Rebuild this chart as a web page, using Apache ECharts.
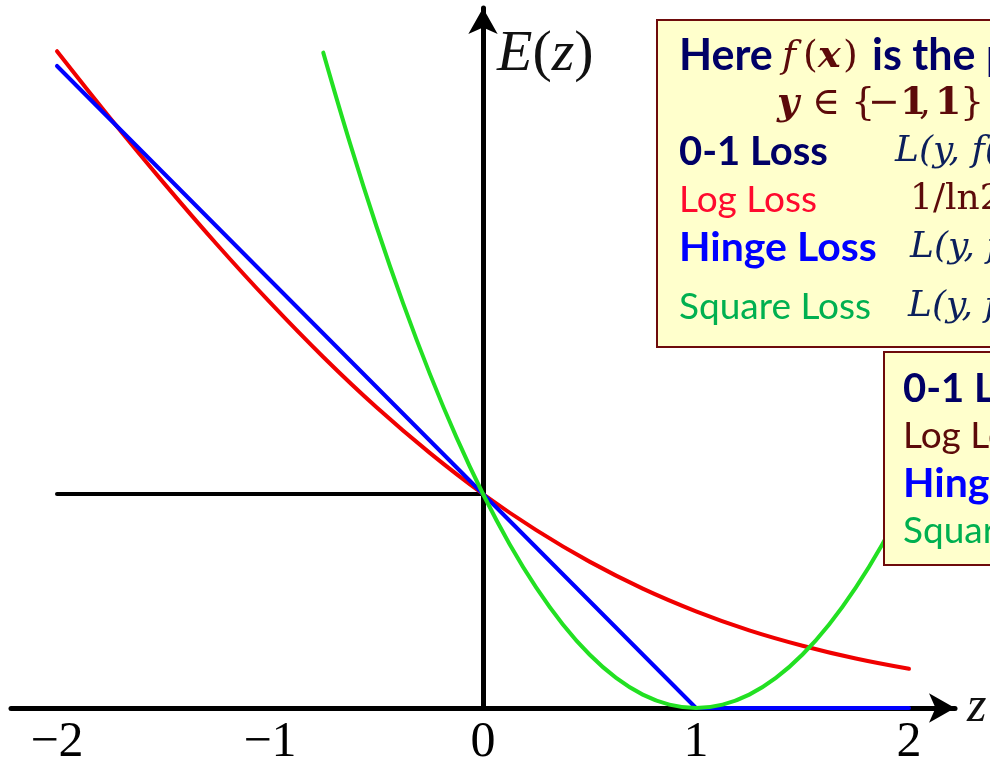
<!DOCTYPE html>
<html>
<head>
<meta charset="utf-8">
<script src="https://cdn.jsdelivr.net/npm/echarts@6/dist/echarts.min.js"></script>
<style>
  html, body { margin: 0; padding: 0; background: #ffffff; }
  #chart { width: 990px; height: 759px; }
</style>
</head>
<body>
<div id="chart"></div>
<script>
// Margin z and the losses E(z) plotted against it
const xTicks = [-2, -1, 0, 1, 2];

const zeroOneZ = [-2, 0];
const zeroOneE = [1, 1];

const logZ = [-2, -1.75, -1.5, -1.25, -1, -0.75, -0.5, -0.25, 0, 0.25, 0.5, 0.75, 1, 1.25, 1.5, 1.75, 2];
const logE = [3.069, 2.756, 2.455, 2.167, 1.895, 1.640, 1.405, 1.192, 1.0, 0.831, 0.684, 0.558, 0.452, 0.363, 0.291, 0.231, 0.183];

const hingeZ = [-2, 1, 2];
const hingeE = [3, 0, 0];

const squareZ = [-0.75, -0.625, -0.5, -0.375, -0.25, -0.125, 0, 0.125, 0.25, 0.375, 0.5, 0.625, 0.75, 0.875, 1,
                 1.125, 1.25, 1.375, 1.5, 1.625, 1.75, 1.875, 2];
const squareE = [3.0625, 2.6406, 2.25, 1.8906, 1.5625, 1.2656, 1, 0.7656, 0.5625, 0.3906, 0.25, 0.1406, 0.0625, 0.0156, 0,
                 0.0156, 0.0625, 0.1406, 0.25, 0.3906, 0.5625, 0.7656, 1];

const pairs = (xs, ys) => xs.map((x, i) => [x, ys[i]]);

const chart = echarts.init(document.getElementById('chart'));

const NAVY = '#000066';
const MAROON = '#5c0a0a';
const MATH_NAVY = '#0b1f5c';
const SANS = 'Lato, "Open Sans", sans-serif';
const SERIF = '"Liberation Serif", "DejaVu Serif", serif';
const MATH = '"DejaVu Serif", serif';

function txt(text, x, y, font, fill) {
  return {
    type: 'text',
    z: 110,
    style: { text: text, x: x, y: y, font: font, fill: fill, verticalAlign: 'middle', align: 'left' }
  };
}

const lineSeries = (name, data, color, z, smooth) => ({
  name: name,
  type: 'line',
  data: data,
  showSymbol: false,
  symbol: 'none',
  smooth: smooth,
  z: z,
  lineStyle: { color: color, width: 4, cap: 'round', join: 'round' }
});

chart.setOption({
  animation: false,
  backgroundColor: '#ffffff',
  grid: { left: 11, right: 35, top: 8, bottom: 51, containLabel: false, outerBoundsMode: 'none' },
  xAxis: {
    type: 'value',
    min: -2.216,
    max: 2.216,
    name: 'z',
    nameLocation: 'end',
    nameGap: 12,
    nameTextStyle: { fontFamily: SERIF, fontStyle: 'italic', fontSize: 50, color: '#111' },
    axisLine: {
      onZero: true,
      symbol: ['none', 'arrow'],
      symbolSize: [22, 26],
      lineStyle: { color: '#000', width: 5, cap: 'round' }
    },
    axisTick: { show: false },
    splitLine: { show: false },
    axisLabel: {
      customValues: xTicks,
      margin: 10,
      fontFamily: SERIF,
      fontSize: 50,
      color: '#000',
      formatter: v => (v < 0 ? '\u2212' + Math.abs(v) : String(v))
    }
  },
  yAxis: {
    type: 'value',
    min: 0,
    max: 3.271,
    axisLine: {
      onZero: true,
      symbol: ['none', 'arrow'],
      symbolSize: [22, 26],
      lineStyle: { color: '#000', width: 5 }
    },
    axisTick: { show: false },
    axisLabel: { show: false },
    splitLine: { show: false }
  },
  graphic: [
    // axis title of the vertical axis
    {
      type: 'text', z: 100,
      style: {
        text: '{i|E}{r|(}{i|z}{r|)}',
        x: 497, y: 55, verticalAlign: 'middle', align: 'left',
        rich: {
          i: { fontFamily: SERIF, fontStyle: 'italic', fontSize: 58, fill: '#111' },
          r: { fontFamily: SERIF, fontSize: 58, fill: '#111' }
        }
      }
    },
    // definitions box
    {
      type: 'rect', z: 105,
      shape: { x: 657, y: 20, width: 420, height: 327 },
      style: { fill: '#ffffcc', stroke: '#6e0b0b', lineWidth: 2 }
    },
    txt('Here', 679, 56, 'bold 43px ' + SANS, NAVY),
    txt('f', 782, 57, 'italic 38px ' + MATH, MAROON),
    txt('(', 803, 57, '38px ' + MATH, MAROON),
    txt('x', 818, 57, 'italic bold 38px ' + MATH, MAROON),
    txt(')', 843, 57, '38px ' + MATH, MAROON),
    txt('is the prediction and', 872, 56, 'bold 43px ' + SANS, NAVY),
    txt('y', 777, 104, 'italic bold 38px ' + MATH, MAROON),
    txt('\u2208', 812, 104, '38px ' + MATH, MAROON),
    txt('{', 851, 104, '38px ' + MATH, MAROON),
    txt('\u2212', 868, 104, '38px ' + MATH, MAROON),
    txt('1', 900, 104, 'bold 38px ' + MATH, MAROON),
    txt(',', 919, 104, '38px ' + MATH, MAROON),
    txt('1', 935, 104, 'bold 38px ' + MATH, MAROON),
    txt('}', 960, 104, '38px ' + MATH, MAROON),
    txt('is the label', 992, 104, 'bold 38px ' + SANS, NAVY),
    txt('0-1 Loss', 679, 152, 'bold 40px ' + SANS, NAVY),
    txt('L(y, f(x)) = 1 if yf(x) < 0', 895, 152, 'italic 36px ' + MATH, MATH_NAVY),
    txt('Log Loss', 679, 200, '37px ' + SANS, '#ff0a2e'),
    txt('1/ln2 ln(1 + e\u207B\u02B8\u1DA0\u207D\u02E3\u207E)', 910, 200, '36px ' + MATH, MAROON),
    txt('Hinge Loss', 679, 248, 'bold 41px ' + SANS, '#0000ff'),
    txt('L(y, f(x)) = max(0, 1 \u2212 yf(x))', 910, 248, 'italic 36px ' + MATH, MATH_NAVY),
    txt('Square Loss', 679, 307, '37px ' + SANS, '#00b050'),
    txt('L(y, f(x)) = (1 \u2212 yf(x))\u00B2', 908, 307, 'italic 36px ' + MATH, MATH_NAVY),
    // legend box
    {
      type: 'rect', z: 105,
      shape: { x: 884, y: 352, width: 300, height: 213 },
      style: { fill: '#ffffcc', stroke: '#6e0b0b', lineWidth: 2 }
    },
    txt('0-1 Loss', 903, 389, 'bold 40px ' + SANS, NAVY),
    txt('Log Loss', 903, 436, '37px ' + SANS, MAROON),
    txt('Hinge Loss', 903, 484, 'bold 41px ' + SANS, '#0000ff'),
    txt('Square Loss', 903, 531, '37px ' + SANS, '#00b050')
  ],
  series: [
    lineSeries('0-1 Loss', pairs(zeroOneZ, zeroOneE), '#000000', 2, false),
    lineSeries('Log Loss', pairs(logZ, logE), '#f00000', 3, 0.4),
    lineSeries('Hinge Loss', pairs(hingeZ, hingeE), '#0000ff', 4, false),
    lineSeries('Square Loss', pairs(squareZ, squareE), '#22e022', 5, 0.4)
  ]
});
</script>
</body>
</html>
